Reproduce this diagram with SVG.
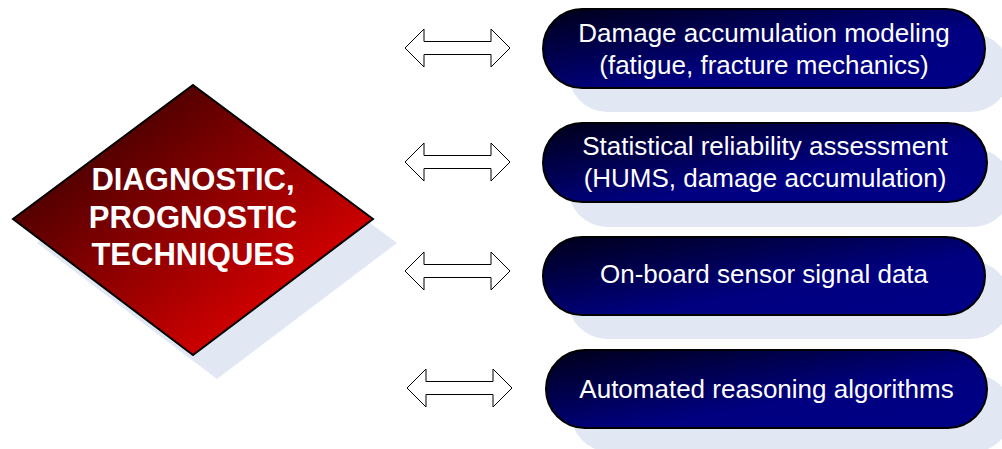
<svg xmlns="http://www.w3.org/2000/svg" width="1002" height="449" viewBox="0 0 1002 449">
<defs>
<linearGradient id="redGrad" x1="0" y1="0" x2="1" y2="1">
<stop offset="0.15" stop-color="#3e0000"/>
<stop offset="0.75" stop-color="#cc0000"/>
</linearGradient>
<linearGradient id="blueGrad" x1="0" y1="0" x2="1" y2="1">
<stop offset="0" stop-color="#000018"/>
<stop offset="0.6" stop-color="#000080"/>
<stop offset="1" stop-color="#000088"/>
</linearGradient>
<path id="arrow" d="M0,0 L19,-19 L19,-6.5 L86,-6.5 L86,-19 L105,0 L86,19 L86,6.5 L19,6.5 L19,19 Z"/>
</defs>
<style>
.shadow{fill:#e2e8f3;}
.pill{fill:url(#blueGrad);stroke:#000;stroke-width:2;}
.ptext{font-family:"Liberation Sans",Arial,sans-serif;font-size:26px;fill:#fff;text-anchor:middle;}
.dtext{font-family:"Liberation Sans",Arial,sans-serif;font-size:31px;font-weight:bold;fill:#fff;text-anchor:middle;}
.arr{fill:#fff;stroke:#000;stroke-width:1;}
</style>
<rect width="1002" height="449" fill="#fff"/>
<g id="diamond">
<polygon class="shadow" points="217,109 397,243 217,379 37,243"/>
<polygon points="193,85 373,219 193,355 13,219" fill="url(#redGrad)" stroke="#000" stroke-width="2"/>
<text class="dtext" x="193" y="190">DIAGNOSTIC,</text>
<text class="dtext" x="193" y="227.5">PROGNOSTIC</text>
<text class="dtext" x="193" y="265">TECHNIQUES</text>
</g>
<g id="node1">
<rect class="shadow" x="568" y="33" width="442" height="79" rx="39.5"/>
<rect class="pill" x="543" y="9" width="442" height="79" rx="39.5"/>
<text class="ptext" x="764" y="42">Damage accumulation modeling</text>
<text class="ptext" x="764" y="74">(fatigue, fracture mechanics)</text>
</g>
<g id="node2">
<rect class="shadow" x="568" y="148" width="444" height="79" rx="39.5"/>
<rect class="pill" x="543" y="123" width="444" height="79" rx="39.5"/>
<text class="ptext" x="765" y="155">Statistical reliability assessment</text>
<text class="ptext" x="765" y="187">(HUMS, damage accumulation)</text>
</g>
<g id="node3">
<rect class="shadow" x="568" y="261" width="442" height="78" rx="39"/>
<rect class="pill" x="543" y="237" width="442" height="78" rx="39"/>
<text class="ptext" x="764" y="283">On-board sensor signal data</text>
</g>
<g id="node4">
<rect class="shadow" x="571" y="374" width="441" height="78" rx="39"/>
<rect class="pill" x="546" y="350" width="441" height="78" rx="39"/>
<text class="ptext" x="766.5" y="398">Automated reasoning algorithms</text>
</g>
<g id="connectors">
<use href="#arrow" class="arr" x="405" y="48"/>
<use href="#arrow" class="arr" x="405" y="162"/>
<use href="#arrow" class="arr" x="405" y="271"/>
<use href="#arrow" class="arr" x="407" y="388"/>
</g>
</svg>
